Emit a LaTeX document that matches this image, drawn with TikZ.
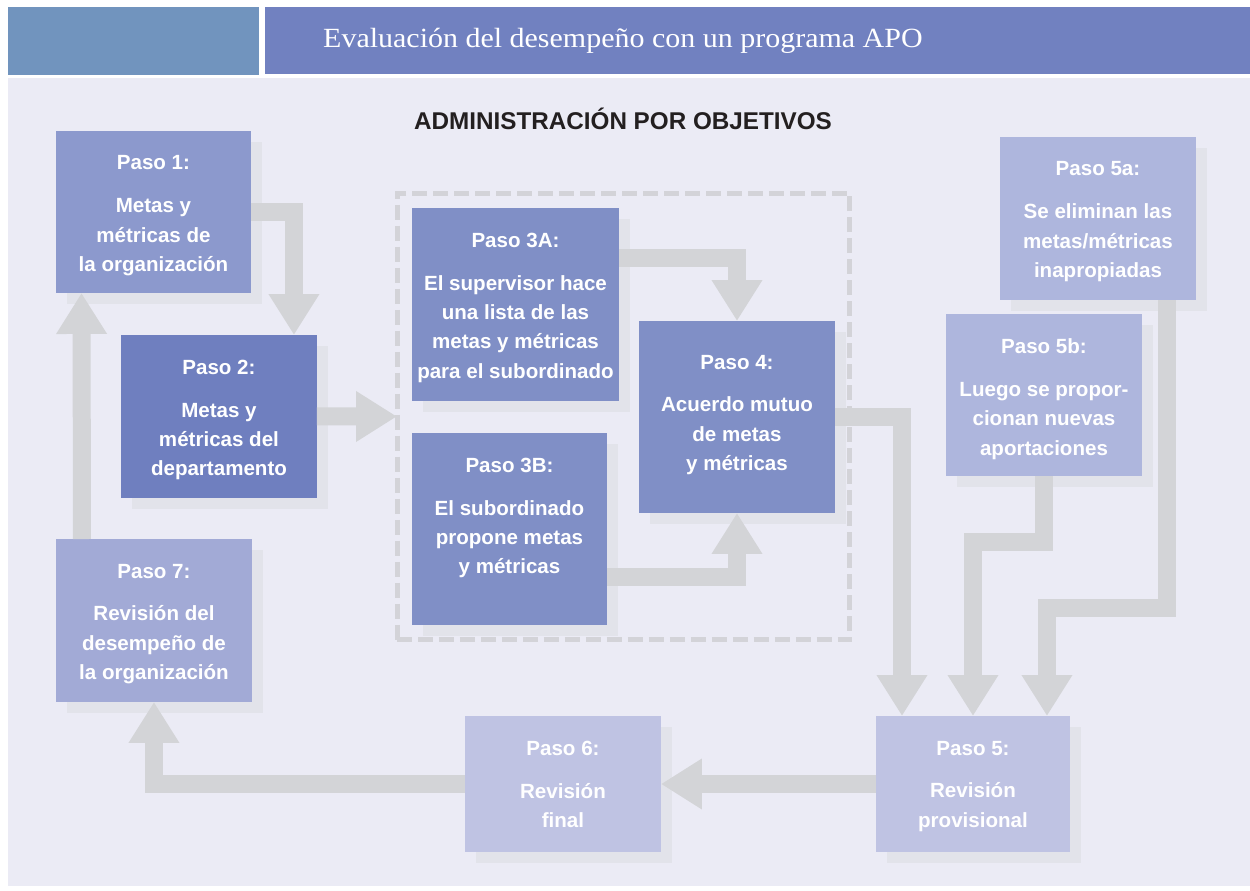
\documentclass[tikz,border=0pt]{standalone}
\usepackage{fontspec}
\usetikzlibrary{positioning,arrows.meta,shadows}
\newfontfamily\boxfont{Liberation Sans}
\newfontfamily\titlefont[FakeStretch=1.08]{Liberation Serif}
\definecolor{fondo}{HTML}{EBEBF5}
\definecolor{cabeza}{HTML}{7181C0}
\definecolor{cabezaizq}{HTML}{7194BE}
\definecolor{pasoa}{HTML}{8C99CD}
\definecolor{pasob}{HTML}{6F7FBF}
\definecolor{pasoc}{HTML}{808FC6}
\definecolor{pasod}{HTML}{AEB6DD}
\definecolor{pasoe}{HTML}{A2AAD6}
\definecolor{pasof}{HTML}{BFC3E3}
\definecolor{flecha}{HTML}{D3D4D7}
\definecolor{sombra}{HTML}{E2E3EA}
\definecolor{guion}{HTML}{D3D3D8}
\definecolor{negro}{HTML}{231F20}

\begin{document}
\begin{tikzpicture}[x=0.02cm,y=-0.02cm,
      caja/.style={
        fill=#1,
        anchor=north west,
        inner sep=0pt,
        outer sep=0pt,
        drop shadow={shadow xshift=0.22cm,shadow yshift=-0.22cm,fill=sombra,opacity=1}
      },
      texto/.style={
        anchor=north,
        align=center,
        inner sep=0pt,
        text=white,
        font=\boxfont\bfseries\fontsize{11.7}{16.7}\selectfont
      },
      flujo/.style={
        draw=flecha,
        line width=0.36cm,
        -{Triangle[width=0.96cm,length=0.82cm]}
      }
      ]
      \useasboundingbox (0,0) rectangle (1250,890);
      \fill[white] (0,0) rectangle (1250,890);
      \fill[fondo] (8,78) rectangle (1250,886);
      \fill[cabezaizq] (8,7) rectangle (259,75);
      \fill[cabeza] (265,7) rectangle (1250,74);

      \node[anchor=base west,text=white,font=\titlefont\fontsize{15.8}{18}\selectfont] (titulo) at (317,47)
        {Evaluación del desempeño con un programa APO};
      \node[anchor=base,text=negro,font=\boxfont\bfseries\fontsize{13.8}{16}\selectfont] (admin) at (623,129)
        {ADMINISTRACIÓN POR OBJETIVOS};

      \node[draw=guion,line width=0.1cm,dash pattern=on 0.3cm off 0.12cm,anchor=north west,
        minimum width=9.06cm,minimum height=8.94cm,inner sep=0pt,outer sep=0pt] (grupo) at (397,193) {};

      \node[caja=pasoa,minimum width=3.9cm,minimum height=3.24cm] (p1) at (56,131) {};
      \node[caja=pasob,minimum width=3.92cm,minimum height=3.26cm] (p2) at (121,335) {};
      \node[caja=pasoc,minimum width=4.14cm,minimum height=3.86cm] (p3a) at (412,208) {};
      \node[caja=pasoc,minimum width=3.9cm,minimum height=3.84cm] (p3b) at (412,433) {};
      \node[caja=pasoc,minimum width=3.92cm,minimum height=3.84cm] (p4) at (639,321) {};
      \node[caja=pasod,minimum width=3.92cm,minimum height=3.26cm] (p5a) at (1000,137) {};
      \node[caja=pasod,minimum width=3.92cm,minimum height=3.24cm] (p5b) at (946,314) {};
      \node[caja=pasoe,minimum width=3.92cm,minimum height=3.26cm] (p7) at (56,539) {};
      \node[caja=pasof,minimum width=3.92cm,minimum height=2.72cm] (p6) at (465,716) {};
      \node[caja=pasof,minimum width=3.88cm,minimum height=2.72cm] (p5) at (876,716) {};

      \node[texto] (t1) at ([yshift=-0.49cm]p1.north)
        {Paso 1:\\[7.7pt]Metas y\\métricas de\\la organización};
      \node[texto] (t2) at ([yshift=-0.49cm]p2.north)
        {Paso 2:\\[7.7pt]Metas y\\métricas del\\departamento};
      \node[texto] (t3a) at ([yshift=-0.49cm]p3a.north)
        {Paso 3A:\\[7.7pt]El supervisor hace\\una lista de las\\metas y métricas\\para el subordinado};
      \node[texto] (t3b) at ([yshift=-0.49cm]p3b.north)
        {Paso 3B:\\[7.7pt]El subordinado\\propone metas\\y métricas};
      \node[texto] (t4) at ([yshift=-0.67cm]p4.north)
        {Paso 4:\\[7.7pt]Acuerdo mutuo\\de metas\\y métricas};
      \node[texto] (t5a) at ([yshift=-0.49cm]p5a.north)
        {Paso 5a:\\[7.7pt]Se eliminan las\\metas/métricas\\inapropiadas};
      \node[texto] (t5b) at ([yshift=-0.49cm]p5b.north)
        {Paso 5b:\\[7.7pt]Luego se propor-\\cionan nuevas\\aportaciones};
      \node[texto] (t7) at ([yshift=-0.49cm]p7.north)
        {Paso 7:\\[7.7pt]Revisión del\\desempeño de\\la organización};
      \node[texto] (t6) at ([yshift=-0.49cm]p6.north)
        {Paso 6:\\[7.7pt]Revisión\\final};
      \node[texto] (t5) at ([yshift=-0.49cm]p5.north)
        {Paso 5:\\[7.7pt]Revisión\\provisional};

      \draw[flujo] (p1.east) -| ([xshift=1.5cm]p2.north);
      \draw[flujo] (p2.east) -- (grupo.west);
      \draw[flujo] ([yshift=0.93cm]p3a.east) -| (p4.north);
      \draw[flujo] ([yshift=-0.96cm]p3b.east) -| (p4.south);
      \draw[flujo] (p4.east) -| ([xshift=-1.42cm]p5.north);
      \draw[flujo] (p5b.south) -- ++(0,66) -| (p5.north);
      \draw[flujo] ([xshift=1.38cm]p5a.south) -- ++(0,308) -| ([xshift=1.48cm]p5.north);
      \draw[flujo] (p5.west) -- (p6.east);
      \draw[flujo] (p6.west) -| (p7.south);
      \draw[flujo] ([xshift=-1.44cm]p7.north) -- ([xshift=-1.44cm]p1.south);
    \end{tikzpicture}
\end{document}
